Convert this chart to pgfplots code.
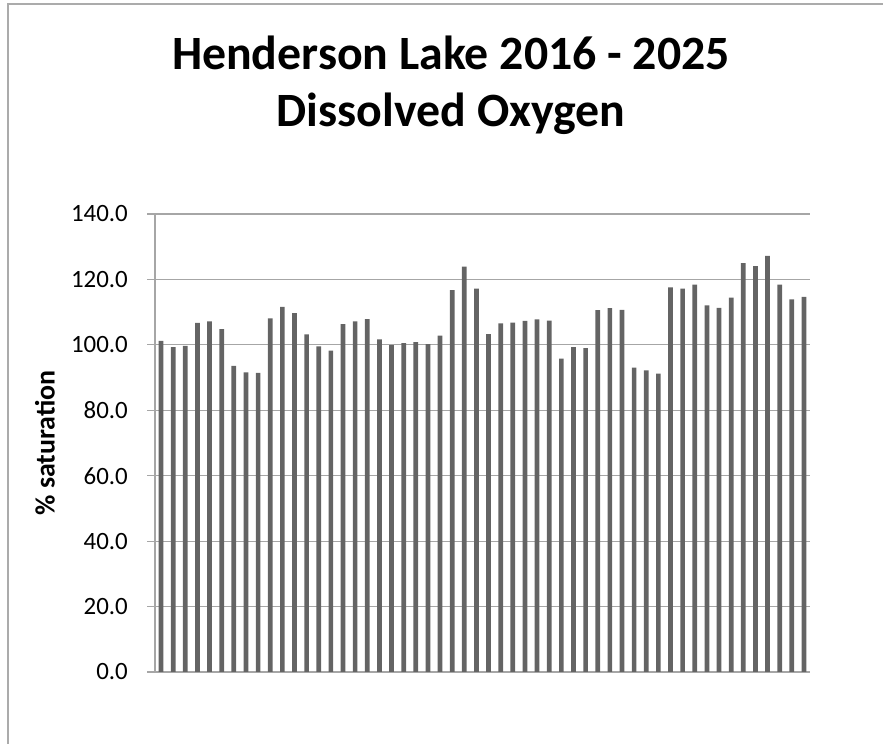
\documentclass[border=0pt]{standalone}
\usepackage{fontspec}
\setmainfont{Carlito}
\usepackage{pgfplots}
\pgfplotsset{compat=1.18}
\definecolor{barcol}{HTML}{646464}
\definecolor{gridcol}{HTML}{A6A6A6}
\definecolor{framecol}{HTML}{ABABAB}
\begin{document}
\begin{tikzpicture}[x=1bp,y=1bp]
\useasboundingbox (0,0) rectangle (883,744);
\draw[framecol, line width=1.6bp] (7.7,0) -- (7.7,740) -- (883,740);
\node[anchor=base, font=\fontsize{48}{52}\selectfont\bfseries] at (451,674) {Henderson Lake 2016 - 2025};
\node[anchor=base, font=\fontsize{48}{52}\selectfont\bfseries] at (451,617) {Dissolved Oxygen};
\begin{axis}[
  at={(155bp,72bp)}, anchor=south west,
  scale only axis, width=655bp, height=458bp,
  ybar, bar width=4.7bp,
  xmin=0.5, xmax=54.5, ymin=0, ymax=140,
  ytick={0,20,...,140},
  xtick=\empty,
  ymajorgrids, grid style={gridcol, line width=1.2bp},
  axis line style={gridcol, line width=1.2bp},
  axis x line*=bottom, axis y line*=left,
  tick style={gridcol, line width=1.2bp},
  major tick length=8bp, tick align=outside,
  y tick label style={font=\fontsize{25}{28}\selectfont, anchor=east, inner sep=0pt, xshift=-19bp},
  /pgf/number format/.cd, fixed, fixed zerofill, precision=1, assume math mode=true,
  /pgfplots/.cd,
  ylabel={\% saturation},
  ylabel style={font=\fontsize{28}{32}\selectfont\bfseries, at={(axis description cs:-0.168,0.5)}, anchor=center, rotate=0},
  separate axis lines,
]
\addplot[fill=barcol, draw=none] coordinates {
(1,101.2) (2,99.3) (3,99.7) (4,106.7) (5,107.2) (6,104.8) (7,93.6) (8,91.6) (9,91.4) (10,108.1)
(11,111.6) (12,109.7) (13,103.2) (14,99.5) (15,98.2) (16,106.3) (17,107.2) (18,107.9) (19,101.7) (20,99.9)
(21,100.5) (22,100.8) (23,100.2) (24,102.8) (25,116.7) (26,123.9) (27,117.2) (28,103.3) (29,106.6) (30,106.8)
(31,107.3) (32,107.8) (33,107.4) (34,95.8) (35,99.3) (36,99.0) (37,110.6) (38,111.2) (39,110.7) (40,93.0)
(41,92.2) (42,91.2) (43,117.6) (44,117.2) (45,118.4) (46,112.1) (47,111.3) (48,114.4) (49,125.0) (50,124.1)
(51,127.2) (52,118.4) (53,113.9) (54,114.7)
};
\end{axis}
\end{tikzpicture}
\end{document}
